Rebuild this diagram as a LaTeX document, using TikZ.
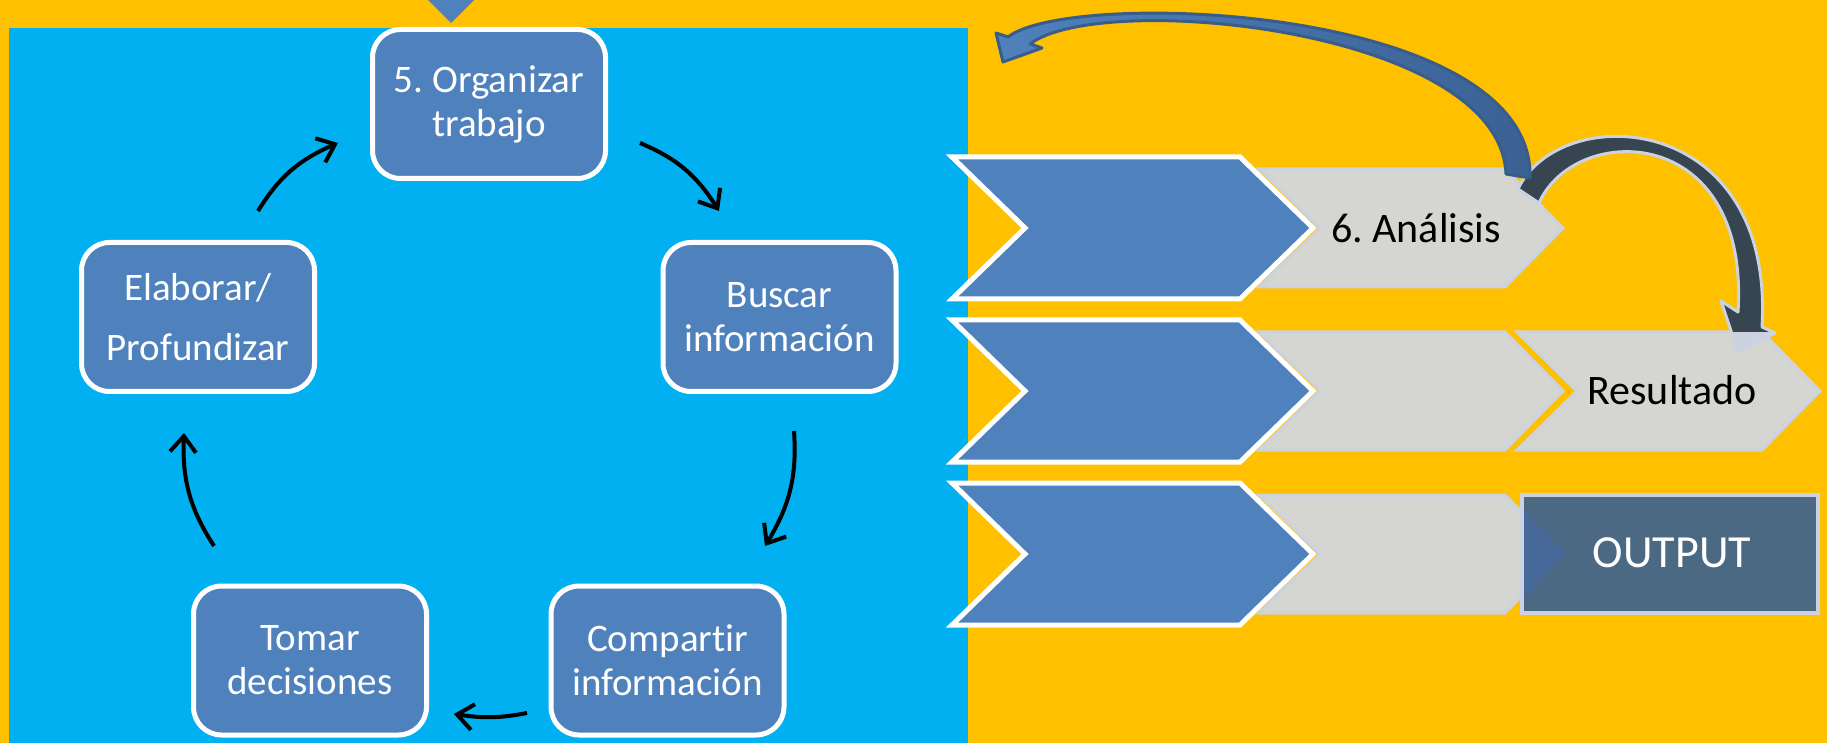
\documentclass[tikz,border=0pt]{standalone}
\usepackage{fontspec}
\setmainfont{Carlito}[Ligatures={NoCommon}]
\usetikzlibrary{arrows.meta,bending}
\definecolor{bgorange}{HTML}{FFC000}
\definecolor{bgcyan}{HTML}{00B0F0}
\definecolor{boxblue}{HTML}{4F81BD}
\definecolor{chevgray}{HTML}{D5D6D2}
\definecolor{chevedge}{HTML}{CBD3E0}
\definecolor{outfill}{HTML}{4B6983}
\definecolor{outtri}{HTML}{46699A}
\definecolor{darkarrow}{HTML}{36454F}
\definecolor{bluearrowdark}{HTML}{3B6194}
\definecolor{bluearrowedge}{HTML}{385D8A}
\frenchspacing
\begin{document}
\begin{tikzpicture}[x=0.5pt,y=-0.5pt,
  cyclebox/.style={rectangle, rounded corners=14pt, fill=boxblue, draw=white,
    line width=2.5pt, minimum width=116.5pt, minimum height=74.5pt, text=white,
    font=\fontsize{19.5}{22}\selectfont, align=center, inner sep=0pt},
  cyclearrow/.style={-{Straight Barb[length=8pt,width=13pt,flex]}, line width=2pt, black, bend left=18},
  bluechev/.style={fill=boxblue, draw=white, line width=2.5pt, line join=miter},
  graychev/.style={fill=chevgray, draw=chevedge, line width=1.5pt, line join=miter},
  sidetext/.style={font=\fontsize{21}{24}\selectfont, text=black, inner sep=0pt}
]
\useasboundingbox (0,0) rectangle (1827,743);
\fill[bgorange] (0,0) rectangle (1827,743);
\fill[bgcyan] (9,28) rectangle (968,743);
\fill[boxblue] (428,0) -- (474,0) -- (451,23) -- cycle;

% cycle boxes
\node[cyclebox] (org) at (489,104) {5. Organizar\\trabajo};
\node[cyclebox] (bus) at (779.5,317) {Buscar\\información};
\node[cyclebox] (com) at (667.5,660.5) {Compartir\\información};
\node[cyclebox] (tom) at (310,660.5) {Tomar\\decisiones};
\node[cyclebox, font=\fontsize{19.5}{30}\selectfont] (ela) at (198,317) {Elaborar/\\Profundizar};

% cycle arrows
\coordinate (a1s) at (258,211); \coordinate (a1e) at (338,143);
\coordinate (a2s) at (640,143); \coordinate (a2e) at (719,211);
\coordinate (a3s) at (794,431); \coordinate (a3e) at (765,546);
\coordinate (a4s) at (527,713); \coordinate (a4e) at (454,714);
\coordinate (a5s) at (214,546); \coordinate (a5e) at (184,433);
\draw[cyclearrow] (a1s) to (a1e);
\draw[cyclearrow] (a2s) to (a2e);
\draw[cyclearrow] (a3s) to (a3e);
\draw[cyclearrow, bend left=10] (a4s) to (a4e);
\draw[cyclearrow] (a5s) to (a5e);

% row 1
\draw[graychev] (1259,169) -- (1505,169) -- (1563,228) -- (1505,287) -- (1259,287) -- (1320,228) -- cycle;
\draw[bluechev] (952,157) -- (1240,157) -- (1313,228) -- (1240,299) -- (952,299) -- (1025,228) -- cycle;
\node[sidetext] (ana) at (1416,228) {6. Análisis};
% row 2
\draw[graychev] (1259,332) -- (1505,332) -- (1563,391) -- (1505,450) -- (1259,450) -- (1320,391) -- cycle;
\draw[graychev] (1517,332) -- (1762,332) -- (1820,391) -- (1762,450) -- (1517,450) -- (1577,391) -- cycle;
\draw[bluechev] (952,320) -- (1240,320) -- (1313,391) -- (1240,462) -- (952,462) -- (1025,391) -- cycle;
\node[sidetext] (res) at (1672,390) {Resultado};
% row 3
\draw[graychev] (1259,495) -- (1505,495) -- (1563,554) -- (1505,613) -- (1259,613) -- (1320,554) -- cycle;
\draw[bluechev] (952,483) -- (1240,483) -- (1313,554) -- (1240,625) -- (952,625) -- (1025,554) -- cycle;
\draw[fill=outfill, draw=chevedge, line width=2pt] (1522,495) rectangle (1818,613);
\fill[outtri] (1524,510) -- (1566,554) -- (1524,598) -- cycle;
\node[font=\fontsize{23}{26}\selectfont, text=white, inner sep=0pt] (out) at (1672,553) {OUTPUT};

% dark curved arrow
\draw[fill=darkarrow, draw=chevedge, line width=1.5pt, line join=round]
  (1518,189) .. controls (1560,100) and (1775,110) .. (1762,327)
  -- (1775,333) -- (1738,352) -- (1721,301) -- (1738,312)
  .. controls (1750,122) and (1575,122) .. (1539,203) -- cycle;
\begin{scope}
\clip (1690,333) rectangle (1800,370);
\fill[chevedge] (1762,327) -- (1775,333) -- (1738,352) -- (1721,301) -- (1738,312) -- cycle;
\end{scope}

% blue curved arrow
\shadedraw[left color=boxblue, right color=bluearrowdark, draw=bluearrowedge, line width=1.5pt, line join=round]
  (1008,37) .. controls (1070,-12) and (1535,5) .. (1530,178)
  -- (1506,174)
  .. controls (1500,28) and (1100,-10) .. (1030,44)
  -- (1042,48) -- (1003,62) -- (996,33) -- cycle;
\end{tikzpicture}
\end{document}
